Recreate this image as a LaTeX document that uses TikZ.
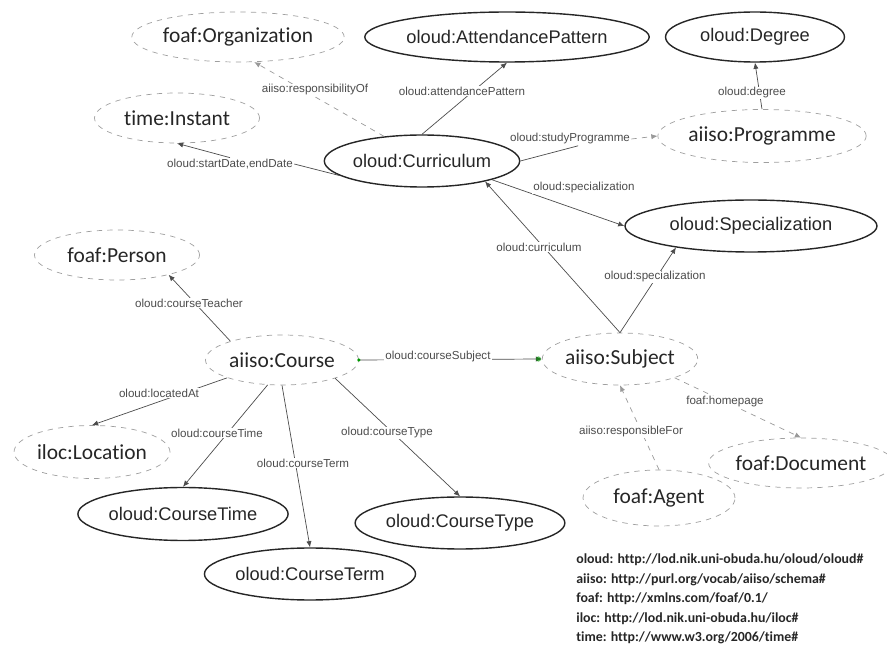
\documentclass[tikz,border=0pt]{standalone}
\usepackage{fontspec}
\usepackage{tikz}
\usetikzlibrary{arrows.meta,shapes.geometric}
\newfontfamily\calfont[Ligatures=NoCommon]{Carlito}
\newfontfamily\arifont{Liberation Sans}

\begin{document}
\begin{tikzpicture}[x=0.02cm, y=-0.02cm,
  ext/.style={ellipse, draw=gray!75, dashed, thin, inner sep=0pt, text=black!85,
    font=\calfont\fontsize{12.2}{14}\selectfont},
  own/.style={ellipse, draw=black!85, line width=0.8pt, inner sep=0pt, text=black!85,
    font=\arifont\fontsize{10.4}{12}\selectfont},
  prop/.style={fill=white, inner sep=0.6pt, text=black!70,
    font=\arifont\fontsize{6.6}{7}\selectfont},
  rel/.style={draw=black!70, thin, -{Latex[length=3.5pt,width=3pt]}},
  extrel/.style={rel, draw=gray!80, dashed}]
\useasboundingbox (0,0) rectangle (887,645);

% Classes of the curriculum part
\node[ext, minimum width=4.16cm, minimum height=1.0cm] (org) at (238,37) {foaf:Organization};
\node[own, minimum width=5.2cm, minimum height=1.0cm] (attp) at (507,37) {oloud:AttendancePattern};
\node[own, minimum width=3.58cm, minimum height=1.0cm] (deg) at (755,37) {oloud:Degree};
\node[ext, minimum width=3.3cm, minimum height=1.0cm] (inst) at (177,118) {time:Instant};
\node[ext, minimum width=3.82cm, minimum height=1.06cm] (prog) at (762,136) {aiiso:Programme};
\node[own, minimum width=3.58cm, minimum height=1.04cm] (curr) at (422,161) {oloud:Curriculum};
\node[own, minimum width=5.04cm, minimum height=1.04cm] (spec) at (751,226) {oloud:Specialization};

% Classes of the course part
\node[ext, minimum width=3.3cm, minimum height=1.0cm] (pers) at (117,255) {foaf:Person};
\node[ext, minimum width=3.06cm, minimum height=1.0cm] (course) at (282,360) {aiiso:Course};
\node[ext, minimum width=3.1cm, minimum height=1.04cm] (subj) at (620,359) {aiiso:Subject};
\node[ext, minimum width=3.12cm, minimum height=1.06cm] (loc) at (92,452) {iloc:Location};
\node[own, minimum width=4.14cm, minimum height=1.06cm] (ctime) at (183,514) {oloud:CourseTime};
\node[own, minimum width=3.66cm, minimum height=1.04cm] (cterm) at (310,574) {oloud:CourseTerm};
\node[own, minimum width=3.6cm, minimum height=1.04cm] (ctype) at (460,523) {oloud:CourseType};
\node[ext, minimum width=3.04cm, minimum height=1.0cm] (doc) at (801,463) {foaf:Document};
\node[ext, minimum width=3.04cm, minimum height=1.12cm] (agent) at (659,498) {foaf:Agent};

% Properties of the curriculum
\draw[extrel] (curr.147) -- (org.-57);
\draw[rel] (curr.north) -- (attp.south);
\node[prop] (lstart) at (230,164) {oloud:startDate,endDate};
\draw[draw=black!70, thin] (curr.190) -- (lstart.east);
\draw[rel] (lstart.north) -- (inst.south);
\node[prop] (lstudy) at (570,139) {oloud:studyProgramme};
\draw[draw=black!70, thin] (curr.east) -- (lstudy.-40);
\draw[extrel] (lstudy.east) -- (prog.west);
\draw[rel] (curr.-15) -- (spec.west);
\draw[rel] (prog.north) -- (deg.south);
\node[prop] (lresp) at (315,90) {aiiso:responsibilityOf};
\node[prop] (lattp) at (462,91) {oloud:attendancePattern};
\node[prop] (lspec) at (584,188) {oloud:specialization};
\node[prop] (ldeg) at (752,93) {oloud:degree};

% Properties of the subject
\draw[rel] (subj.north) -- (curr.-18);
\draw[rel] (subj.north) -- (spec.196);
\draw[extrel] (subj.-19) -- (doc.north);
\draw[extrel] (agent.north) -- (subj.south);
\node[prop] (lcurr) at (539,247) {oloud:curriculum};
\node[prop] (lspec2) at (655,277) {oloud:specialization};
\node[prop] (lhome) at (725,402) {foaf:homepage};
\node[prop] (lrespf) at (631,432) {aiiso:responsibleFor};

% Properties of the course
\draw[rel] (course.160) -- (pers.-21);
\draw[rel] (course.east) -- (subj.west);
\fill[green!60!black] (course.east) circle (1.8);
\fill[green!60!black, opacity=0.6] ([xshift=-2]subj.west) circle (2.6);
\draw[rel] (course.198) -- (loc.north);
\draw[rel] (course.-120) -- (ctime.north);
\draw[rel] (course.south) -- (cterm.north);
\draw[rel] (course.-19) -- (ctype.north);
\node[prop] (lteach) at (189,303) {oloud:courseTeacher};
\node[prop] (lsubj) at (438,357) {oloud:courseSubject};
\node[prop] (lloc) at (159,393) {oloud:locatedAt};
\node[prop] (ltime) at (217,433) {oloud:courseTime};
\node[prop] (lterm) at (303,463) {oloud:courseTerm};
\node[prop] (ltype) at (387,433) {oloud:courseType};

% Namespaces
\node[anchor=west, align=left, inner sep=0pt, text=black!85, font=\calfont\bfseries\fontsize{7.9}{11.1}\selectfont] (ns) at (576,599)
  {oloud: http://lod.nik.uni-obuda.hu/oloud/oloud\#\\
   aiiso: http://purl.org/vocab/aiiso/schema\#\\
   foaf: http://xmlns.com/foaf/0.1/\\
   iloc: http://lod.nik.uni-obuda.hu/iloc\#\\
   time: http://www.w3.org/2006/time\#};
\end{tikzpicture}
\end{document}
